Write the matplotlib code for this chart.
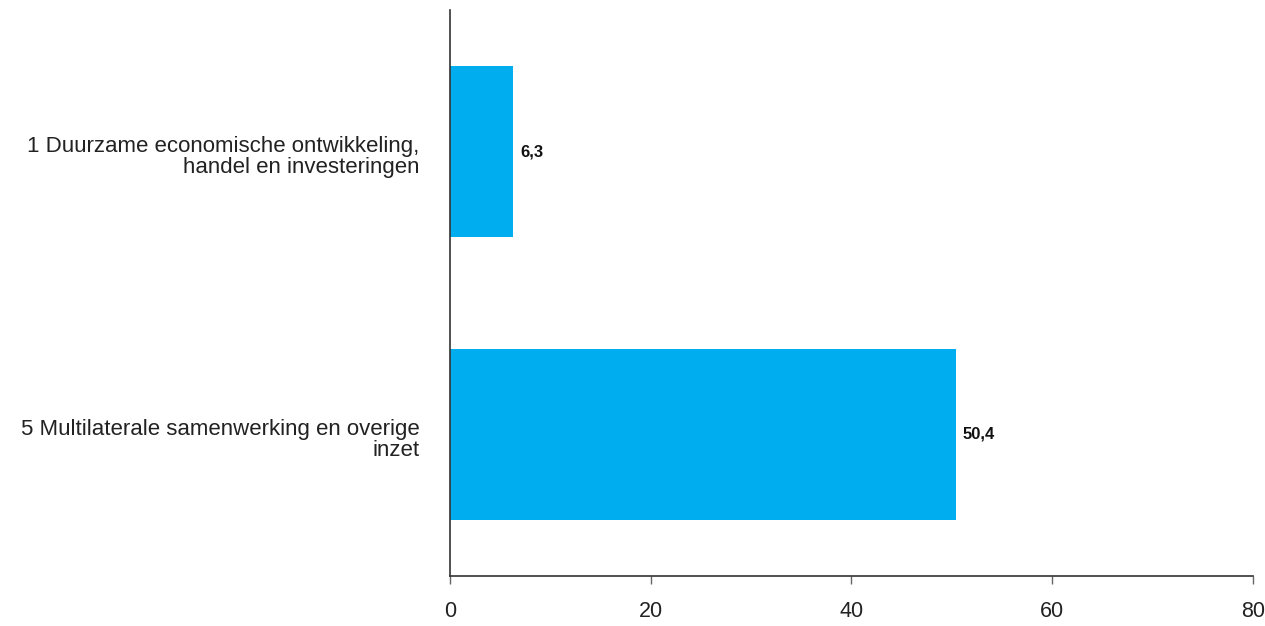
import matplotlib
matplotlib.use("Agg")
import matplotlib.pyplot as plt

# categorieën en waarden (in de volgorde van boven naar beneden)
categorieen = ["1 Duurzame economische ontwikkeling,\nhandel en investeringen",
               "5 Multilaterale samenwerking en overige\ninzet"]
waarden = [6.3, 50.4]
x_ticks = [0, 20, 40, 60, 80]

plt.rcParams['font.family'] = ['Liberation Sans', 'DejaVu Sans']

fig = plt.figure(figsize=(12.65, 6.26), dpi=100)
ax = fig.add_axes([0.3557, 0.0799, 0.6348, 0.9041])

posities = list(range(len(categorieen)))
ax.barh(posities, waarden, height=0.605, color='#00aeef')

for p, w in zip(posities, waarden):
    ax.annotate(f"{w:.1f}".replace('.', ','), (w, p), xytext=(5, 0),
                textcoords='offset points', va='center', ha='left',
                fontsize=12, fontweight='bold', color='#111111')

# categorielabels als losse tekst, iets onder het midden van de balk
for p, naam in zip(posities, categorieen):
    ax.annotate(naam, (0, p), xycoords=('axes fraction', 'data'),
                xytext=(-22, -4), textcoords='offset points',
                ha='right', va='center', fontsize=16, color='#222222',
                linespacing=1.05)

ax.set_ylim(1.5, -0.5)
ax.set_xlim(0, 80)
ax.set_xticks(x_ticks)
ax.set_xticklabels([str(t) for t in x_ticks], fontsize=15.5, color='#222222')
ax.set_yticks([])

ax.spines['top'].set_visible(False)
ax.spines['right'].set_visible(False)
ax.spines['left'].set_color('#333333')
ax.spines['bottom'].set_color('#333333')
ax.spines['left'].set_linewidth(1.2)
ax.spines['bottom'].set_linewidth(1.2)
ax.tick_params(axis='x', length=6, width=1, color='#666666', pad=12)

fig.savefig("out.png", dpi=100)
